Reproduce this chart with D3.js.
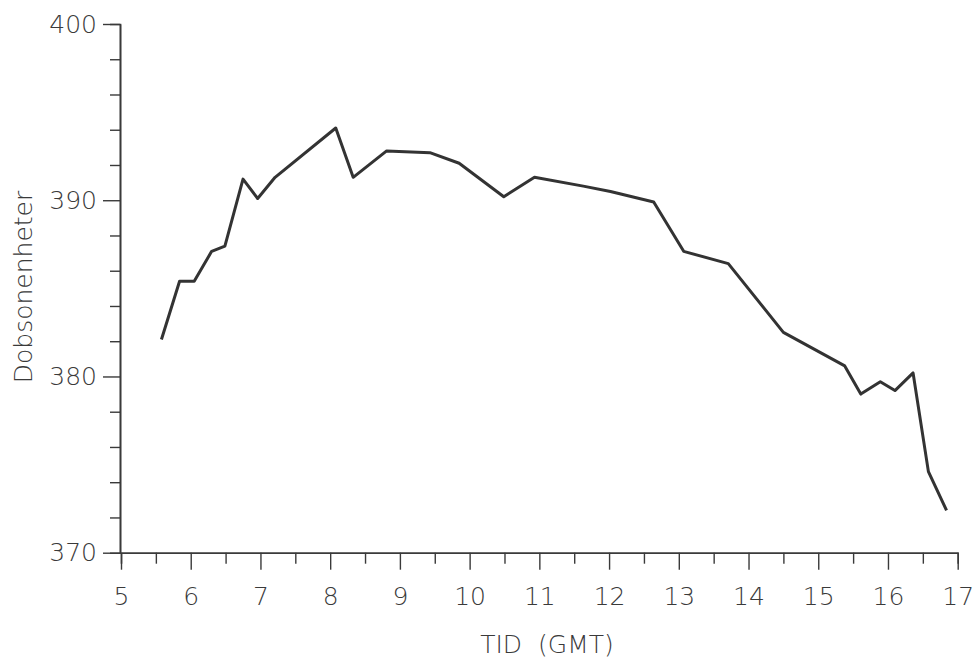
<!DOCTYPE html>
<html>
<head>
<meta charset="utf-8">
<script src="https://cdn.jsdelivr.net/npm/d3@7"></script>
<style>
  html, body { margin: 0; padding: 0; background: #fff; }
  svg { display: block; }
  .lbl { font-family: "DejaVu Sans", sans-serif; font-weight: 200; fill: #3a3a3a; }
</style>
</head>
<body>
<svg id="chart" width="973" height="660"></svg>
<script>
// Total ozone (Dobson units) over the day, time in GMT hours
const timeGMT = [5.58, 5.84, 6.05, 6.30, 6.49, 6.75, 6.96, 7.21, 8.08, 8.33, 8.81, 9.43, 9.85, 10.49, 10.93, 11.63, 12.02, 12.64, 13.07, 13.71, 14.50, 15.38, 15.61, 15.89, 16.10, 16.36, 16.58, 16.84];
const dobson  = [382.1, 385.4, 385.4, 387.1, 387.4, 391.2, 390.1, 391.3, 394.1, 391.3, 392.8, 392.7, 392.1, 390.2, 391.3, 390.8, 390.5, 389.9, 387.1, 386.4, 382.5, 380.6, 379.0, 379.7, 379.2, 380.2, 374.6, 372.4];

const xMajorTicks = [5, 6, 7, 8, 9, 10, 11, 12, 13, 14, 15, 16, 17];
const xMinorTicks = [5.5, 6.5, 7.5, 8.5, 9.5, 10.5, 11.5, 12.5, 13.5, 14.5, 15.5, 16.5];
const yMajorTicks = [370, 380, 390, 400];
const yMinorTicks = [372, 374, 376, 378, 382, 384, 386, 388, 392, 394, 396, 398];

const xTitle = "TID (GMT)";
const yTitle = "Dobsonenheter";

const svg = d3.select("#chart");
const ink = "#3a3a3a";

const x = d3.scaleLinear().domain([5, 17]).range([121, 957.7]);
const y = d3.scaleLinear().domain([370, 400]).range([552.7, 24]);
const x0 = 120, y0 = 552.7;

function styleAxis(g) {
  g.select(".domain").attr("stroke", ink).attr("stroke-width", 1.6);
  g.selectAll(".tick line").attr("stroke", ink).attr("stroke-width", 1.4);
  g.selectAll(".tick text").attr("class", "lbl").attr("font-size", 25).attr("fill", ink);
}

// x axis: minor ticks then major ticks with labels
svg.append("g").attr("transform", `translate(0,${y0})`)
  .call(d3.axisBottom(x).tickValues(xMinorTicks).tickSize(11).tickFormat(""))
  .call(styleAxis);
svg.append("g").attr("transform", `translate(0,${y0})`)
  .call(d3.axisBottom(x).tickValues(xMajorTicks).tickSize(17).tickPadding(18).tickSizeOuter(0).tickFormat(d3.format("d")))
  .call(styleAxis);

// y axis
svg.append("g").attr("transform", `translate(${x0},0)`)
  .call(d3.axisLeft(y).tickValues(yMinorTicks).tickSize(10).tickFormat(""))
  .call(styleAxis);
svg.append("g").attr("transform", `translate(${x0},0)`)
  .call(d3.axisLeft(y).tickValues(yMajorTicks).tickSize(17).tickPadding(6).tickSizeOuter(0).tickFormat(d3.format("d")))
  .call(styleAxis);

// ozone curve
const pts = timeGMT.map((t, i) => [t, dobson[i]]);
svg.append("path")
  .datum(pts)
  .attr("fill", "none")
  .attr("stroke", "#333")
  .attr("stroke-width", 3)
  .attr("stroke-linejoin", "round")
  .attr("d", d3.line().x(d => x(d[0])).y(d => y(d[1])));

// axis titles
svg.append("text").attr("class", "lbl")
  .attr("x", 547).attr("y", 653)
  .attr("text-anchor", "middle").attr("font-size", 25)
  .attr("word-spacing", 8)
  .text(xTitle);

svg.append("text").attr("class", "lbl")
  .attr("transform", "translate(32,287) rotate(-90)")
  .attr("text-anchor", "middle").attr("font-size", 25)
  .text(yTitle);
</script>
</body>
</html>
